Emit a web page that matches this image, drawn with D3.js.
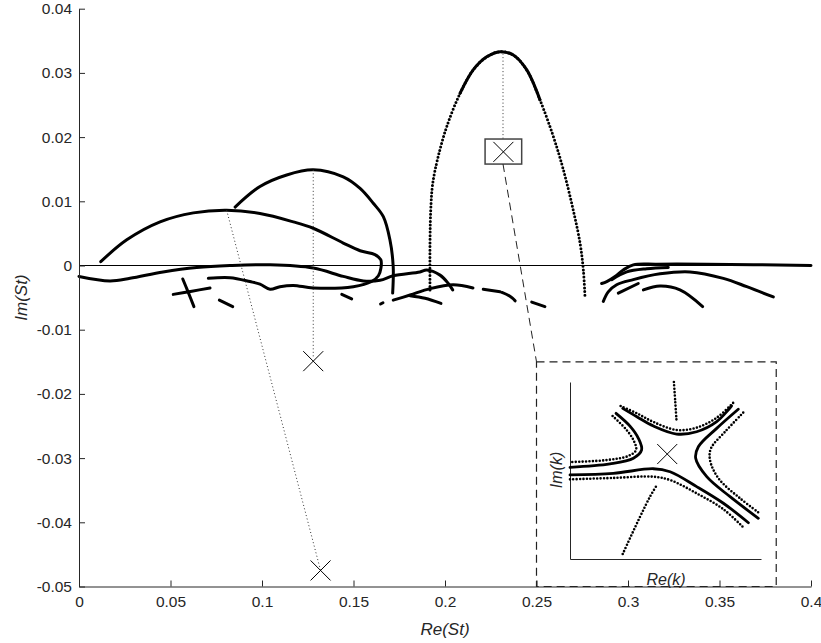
<!DOCTYPE html>
<html>
<head>
<meta charset="utf-8">
<script src="https://cdn.jsdelivr.net/npm/d3@7"></script>
<style>
body { margin: 0; background: #fff; }
</style>
</head>
<body>
<div id="chart"></div>
<script>
// tick values
var xTicks = [0, 0.05, 0.1, 0.15, 0.2, 0.25, 0.3, 0.35, 0.4];
var yTicks = [-0.05, -0.04, -0.03, -0.02, -0.01, 0, 0.01, 0.02, 0.03, 0.04];

// solid branches, [Re(St), Im(St)]
var archLoop = [[0.0119,0.0006],[0.0261,0.0040],[0.0443,0.0068],[0.0625,0.0082],[0.0807,0.0086],[0.0989,0.0081],
    [0.1171,0.0068],[0.1280,0.0058],[0.1444,0.0035],[0.1536,0.0023],[0.1617,0.0017],[0.1649,0.0009],[0.1650,-0.0004],
    [0.1636,-0.0016],[0.1599,-0.0025],[0.1499,-0.0033],[0.1280,-0.0035],[0.1171,-0.0031],[0.1098,-0.0033],
    [0.1044,-0.0037],[0.0989,-0.0029],[0.0934,-0.0025],[0.0825,-0.0019],[0.0707,-0.0020]];
var upperLoop = [[0.0853,0.0091],[0.0989,0.0123],[0.1135,0.0141],[0.1280,0.0149],[0.1444,0.0138],[0.1536,0.0120],
    [0.1608,0.0097],[0.1663,0.0076],[0.1699,0.0040],[0.1717,-0.0002],[0.1714,-0.0043]];
var lowerBranch = [[0,-0.0017],[0.0169,-0.0024],[0.0279,-0.0020],[0.0459,-0.0010],[0.0643,-0.0003],[0.0825,0.0000],
    [0.1044,0.0001],[0.1280,-0.0004],[0.1444,-0.0017],[0.1554,-0.0024],[0.1645,-0.0023],[0.1717,-0.0016],
    [0.1863,-0.0010],[0.1900,-0.0007],[0.1973,-0.0015],[0.2018,-0.0028],[0.2042,-0.0038]];
var midBranch1 = [[0.1717,-0.0054],[0.1809,-0.0046],[0.1918,-0.0036],[0.2045,-0.0030],[0.2153,-0.0035]];
var midBranch2 = [[0.2209,-0.0037],[0.2301,-0.0041]];
var midBranch3 = [[0.2311,-0.0042],[0.2355,-0.0048],[0.2383,-0.0055]];
var midFork = [[0.1809,-0.0047],[0.1891,-0.0051],[0.1978,-0.0059]];
var crossA = [[0.0515,-0.0045],[0.0617,-0.0040],[0.0716,-0.0035]];
var crossB = [[0.0567,-0.0021],[0.0596,-0.0041],[0.0628,-0.0064]];
var piece1 = [[0.0767,-0.0054],[0.0840,-0.0064]];
var piece2 = [[0.1436,-0.0045],[0.1490,-0.0052]];
var piece3 = [[0.1648,-0.0060],[0.1661,-0.0058]];
var piece4 = [[0.2474,-0.0057],[0.2546,-0.0064]];
var rightLong = [[0.2856,-0.0028],[0.2884,-0.0025],[0.2929,-0.0017],[0.2974,-0.0007],[0.3029,0.0001],[0.3157,0.0002],
    [0.3430,0.0002],[0.4,0.0000]];
var rightShort = [[0.2911,-0.0022],[0.2993,-0.0010],[0.3102,-0.0005],[0.3220,-0.0003]];
var rightMid = [[0.2865,-0.0056],[0.2892,-0.0041],[0.2938,-0.0030],[0.3029,-0.0022],[0.3175,-0.0013],[0.3339,-0.0010],
    [0.3521,-0.0020],[0.3649,-0.0033],[0.3794,-0.0049]];
var rightDash = [[0.2947,-0.0043],[0.3056,-0.0028]];
var rightLow = [[0.3084,-0.0038],[0.3175,-0.0032],[0.3284,-0.0038],[0.3408,-0.0064]];

// dotted branch
var dottedArch = [[0.1918,-0.0038],[0.1918,0.0035],[0.1922,0.0086],[0.1933,0.0128],[0.1963,0.0170],[0.2009,0.0216],
    [0.2082,0.0268],[0.2155,0.0305],[0.2228,0.0325],[0.2301,0.0333],[0.2373,0.0328],[0.2446,0.0305],[0.2519,0.0258],
    [0.2592,0.0201],[0.2647,0.0149],[0.2701,0.0086],[0.2738,0.0035],[0.2756,-0.0007],[0.2765,-0.0049]];

// saddle points and leaders
var markers = [[0.128,-0.0149],[0.132,-0.0475],[0.2319,0.0177]];
var leaders = [[[0.0807,0.0086],[0.132,-0.0475]], [[0.128,0.0149],[0.128,-0.0142]], [[0.2317,0.0330],[0.2317,0.0197]]];
var zoomLeader = [[0.2317,0.0158],[0.25,-0.015]];
var boxRe = [0.2219, 0.2419], boxIm = [0.0158, 0.0197];
var insetRe = [0.25, 0.381], insetIm = [-0.05, -0.015];

// inset, [Re(k), Im(k)] on a unit box
var insetSaddle = [0.509, 0.593];
var topSolid = [[0.276,0.851],[0.350,0.804],[0.437,0.751],[0.558,0.706],[0.663,0.719],[0.768,0.776],[0.846,0.865]];
var topDots = [[0.265,0.864],[0.350,0.823],[0.437,0.774],[0.558,0.729],[0.663,0.742],[0.768,0.798],[0.855,0.883]];
var leftSolid = [[0.241,0.823],[0.314,0.751],[0.358,0.682],[0.375,0.616],[0.332,0.569],[0.209,0.537],[0,0.518]];
var leftDots = [[0.223,0.808],[0.293,0.733],[0.332,0.672],[0.346,0.616],[0.305,0.582],[0.192,0.559],[0,0.548]];
var bottomSolid = [[0,0.475],[0.227,0.484],[0.436,0.510],[0.524,0.493],[0.663,0.409],[0.803,0.315],[0.934,0.205]];
var bottomDots = [[0,0.450],[0.227,0.458],[0.436,0.465],[0.524,0.446],[0.663,0.371],[0.803,0.281],[0.907,0.179]];
var rightSolid = [[0.881,0.846],[0.768,0.738],[0.672,0.634],[0.658,0.569],[0.716,0.465],[0.838,0.352],[0.986,0.230]];
var rightDots = [[0.907,0.827],[0.812,0.719],[0.738,0.625],[0.733,0.559],[0.777,0.456],[0.890,0.343],[0.998,0.254]];
var upDots = [[0.544,1.0],[0.551,0.889],[0.558,0.776]];
var downDots = [[0.276,0.028],[0.367,0.239],[0.419,0.352],[0.450,0.409]];

var W = 821, H = 643;
var plotLeft = 79, plotRight = 811, plotTop = 8.7, plotBottom = 586.5;
var axisColor = "#262626";
var font = "'Liberation Sans', Arial, Helvetica, sans-serif";

var svg = d3.select("#chart").append("svg")
    .attr("width", W)
    .attr("height", H)
    .style("font-family", font);

var x = d3.scaleLinear().domain([0, 0.4]).range([plotLeft, plotRight]);
var y = d3.scaleLinear().domain([-0.05, 0.04]).range([plotBottom, plotTop]);

var line = d3.line()
    .x(function(d) { return x(d[0]); })
    .y(function(d) { return y(d[1]); })
    .curve(d3.curveCatmullRom);

// zero line
svg.append("line")
    .attr("x1", x(0)).attr("x2", x(0.4))
    .attr("y1", y(0)).attr("y2", y(0))
    .attr("stroke", "#000").attr("stroke-width", 1);

// solid branches
var solids = [archLoop, upperLoop, lowerBranch, midBranch1, midBranch2, midBranch3, midFork,
    crossA, crossB, piece1, piece2, piece3, piece4, rightLong, rightShort, rightMid, rightDash, rightLow];
svg.selectAll(".branch")
    .data(solids)
    .enter().append("path")
    .attr("class", "branch")
    .attr("d", line)
    .attr("fill", "none")
    .attr("stroke", "#000")
    .attr("stroke-width", 3)
    .attr("stroke-linecap", "round")
    .attr("stroke-linejoin", "round");

// dotted arch, dense near the top
svg.append("path")
    .attr("d", line(dottedArch))
    .attr("fill", "none")
    .attr("stroke", "#000")
    .attr("stroke-width", 3)
    .attr("stroke-linecap", "round")
    .attr("stroke-dasharray", "0 3.6");
svg.append("path")
    .attr("d", line(dottedArch.slice(6, 13)))
    .attr("fill", "none")
    .attr("stroke", "#000")
    .attr("stroke-width", 3)
    .attr("stroke-linecap", "round");

// thin dotted leaders
svg.selectAll(".leader")
    .data(leaders)
    .enter().append("line")
    .attr("class", "leader")
    .attr("x1", function(d) { return x(d[0][0]); })
    .attr("y1", function(d) { return y(d[0][1]); })
    .attr("x2", function(d) { return x(d[1][0]); })
    .attr("y2", function(d) { return y(d[1][1]); })
    .attr("stroke", "#333")
    .attr("stroke-width", 1)
    .attr("stroke-dasharray", "1 2.5");

// box round the zoomed saddle
svg.append("rect")
    .attr("x", x(boxRe[0]))
    .attr("y", y(boxIm[1]))
    .attr("width", x(boxRe[1]) - x(boxRe[0]))
    .attr("height", y(boxIm[0]) - y(boxIm[1]))
    .attr("fill", "none")
    .attr("stroke", "#444")
    .attr("stroke-width", 1.5);

svg.append("line")
    .attr("x1", x(zoomLeader[0][0])).attr("y1", y(zoomLeader[0][1]))
    .attr("x2", x(zoomLeader[1][0])).attr("y2", y(zoomLeader[1][1]))
    .attr("stroke", "#222")
    .attr("stroke-width", 1)
    .attr("stroke-dasharray", "8 5");

// x markers
svg.selectAll(".mark")
    .data(markers)
    .enter().append("path")
    .attr("class", "mark")
    .attr("transform", function(d) { return "translate(" + x(d[0]) + "," + y(d[1]) + ")"; })
    .attr("d", "M-10,-10L10,10M-10,10L10,-10")
    .attr("stroke", "#000")
    .attr("stroke-width", 1);

// main axes
var gx = svg.append("g")
    .attr("transform", "translate(0," + plotBottom + ")")
    .call(d3.axisBottom(x).tickValues(xTicks).tickSize(-6).tickSizeOuter(0).tickPadding(9)
        .tickFormat(function(d) { return String(d); }));
var gy = svg.append("g")
    .attr("transform", "translate(" + plotLeft + ",0)")
    .call(d3.axisLeft(y).tickValues(yTicks).tickSize(-6).tickSizeOuter(0).tickPadding(7)
        .tickFormat(function(d) { return String(d); }));
[gx, gy].forEach(function(g) {
    g.selectAll("path, line").attr("stroke", axisColor);
    g.selectAll("text").attr("fill", axisColor).style("font-size", "15.5px").style("font-family", font);
});

svg.append("text")
    .attr("x", (plotLeft + plotRight) / 2)
    .attr("y", 635)
    .attr("text-anchor", "middle")
    .attr("fill", axisColor)
    .style("font-size", "17px")
    .style("font-style", "italic")
    .text("Re(St)");
svg.append("text")
    .attr("transform", "translate(27," + (plotTop + plotBottom) / 2 + ") rotate(-90)")
    .attr("text-anchor", "middle")
    .attr("fill", axisColor)
    .style("font-size", "17px")
    .style("font-style", "italic")
    .text("Im(St)");

// inset frame
svg.append("rect")
    .attr("x", x(insetRe[0]))
    .attr("y", y(insetIm[1]))
    .attr("width", x(insetRe[1]) - x(insetRe[0]))
    .attr("height", y(insetIm[0]) - y(insetIm[1]))
    .attr("fill", "none")
    .attr("stroke", "#222")
    .attr("stroke-width", 1.2)
    .attr("stroke-dasharray", "8 5");

// inset axes
var u = d3.scaleLinear().domain([0, 1]).range([570, 761]);
var v = d3.scaleLinear().domain([0, 1]).range([559, 382]);
var inset = svg.append("g");
inset.append("g")
    .attr("transform", "translate(570,0)")
    .call(d3.axisLeft(v).ticks(0).tickSizeOuter(0));
inset.append("g")
    .attr("transform", "translate(0,559)")
    .call(d3.axisBottom(u).ticks(0).tickSizeOuter(0));
inset.selectAll("path").attr("stroke", axisColor);

var iline = d3.line()
    .x(function(d) { return u(d[0]); })
    .y(function(d) { return v(d[1]); })
    .curve(d3.curveCatmullRom);

inset.selectAll(".isolid")
    .data([topSolid, leftSolid, bottomSolid, rightSolid])
    .enter().append("path")
    .attr("class", "isolid")
    .attr("d", iline)
    .attr("fill", "none")
    .attr("stroke", "#000")
    .attr("stroke-width", 2.8)
    .attr("stroke-linecap", "round");
inset.selectAll(".idots")
    .data([topDots, leftDots, bottomDots, rightDots, upDots, downDots])
    .enter().append("path")
    .attr("class", "idots")
    .attr("d", iline)
    .attr("fill", "none")
    .attr("stroke", "#000")
    .attr("stroke-width", 2.6)
    .attr("stroke-linecap", "round")
    .attr("stroke-dasharray", "0 3.4");

inset.append("path")
    .attr("transform", "translate(" + u(insetSaddle[0]) + "," + v(insetSaddle[1]) + ")")
    .attr("d", "M-10,-10L10,10M-10,10L10,-10")
    .attr("stroke", "#000")
    .attr("stroke-width", 1);

inset.append("text")
    .attr("x", 666)
    .attr("y", 585)
    .attr("text-anchor", "middle")
    .attr("fill", axisColor)
    .style("font-size", "16px")
    .style("font-style", "italic")
    .text("Re(k)");
inset.append("text")
    .attr("transform", "translate(562,470) rotate(-90)")
    .attr("text-anchor", "middle")
    .attr("fill", axisColor)
    .style("font-size", "16px")
    .style("font-style", "italic")
    .text("Im(k)");
</script>
</body>
</html>
